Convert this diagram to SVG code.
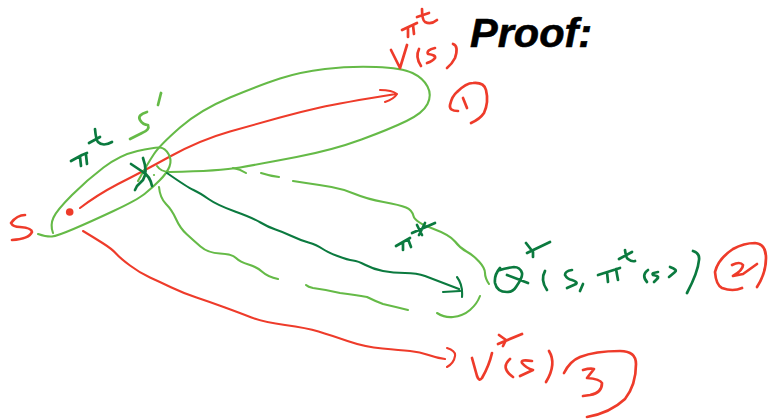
<svg xmlns="http://www.w3.org/2000/svg" width="769" height="420" viewBox="0 0 769 420">
<style>
path{fill:none;stroke-width:2.7;stroke-linecap:round;stroke-linejoin:round}
#connectors path{stroke-width:2.1}
.r path,path.r{stroke:#ee3b2a}
.g path,path.g{stroke:#65ba47}
.d path,path.d{stroke:#0b7a3f}
.title{font-family:"Liberation Sans",Arial,sans-serif;font-weight:bold;font-style:italic;font-size:41.5px;fill:#000;stroke:#000;stroke-width:.6px}
</style>
<rect width="769" height="420" fill="#fff"/>
<g id="title"><text class="title" x="470" y="47">Proof:</text></g>
<g id="connectors">
<path class="r" d="M80 208Q97 195 118 184Q140 173 170 156.5Q200 140 230 131.5Q260 123 280 117.5Q300 112 320 107.5Q340 103 396 94M380 90Q392 90 397 94Q394 99 385 102"/>
<path class="g" d="M138 181Q148 163 154 154Q160 145 180 127.5Q200 110 230 97.5Q260 85 280 78.5Q300 72 325 69Q350 66 376 67Q402 68 412.5 73Q423 78 427.5 86.5Q432 95 427.5 104Q423 113 406.5 121Q390 129 361.5 139.5Q333 150 296.5 157Q260 164 240 167.5Q220 171 170 172Q161 172 157 166"/>
<path class="g" d="M38 234Q47 237 52 236.5Q57 236 73.5 229Q90 222 113.5 211Q137 200 144.5 194Q152 188 159.5 180.5Q167 173 169.5 166.5Q172 160 168.5 154Q165 148 160 147.5Q155 147 137.5 151Q120 155 103.5 167.5Q87 180 72 195Q57 210 53.5 217.5Q50 225 53 233"/>
<path class="g" d="M233 168Q240 169 246 173M261 173Q270 176 279 177M293 181L306 183Q320 185 331.5 187Q343 189 355 194Q367 199 383.5 202Q400 205 406 207.5Q412 210 413.5 216Q415 222 432.5 228.5Q450 235 455 241.5Q460 248 466.5 251.5Q473 255 479 261.5Q485 268 485 273Q485 278 489 284"/>
<path class="g" d="M159 187Q160 198 166 204Q172 210 176 219Q180 228 186.5 234Q193 240 200.5 246.5Q208 253 220 253.5Q232 254 236 258Q240 262 248.5 264.5Q257 267 262.5 272Q268 277 278 279"/>
<path class="g" d="M306 285Q308 287 313 288Q328 290 340 293Q356 295 367 297Q375 301 383 304Q396 307 408 310M437 313Q445 318 453 317Q463 316 470 310Q477 304 480 296"/>
<path class="d" d="M167 173Q187 187 193.5 190Q200 193 208.5 199Q217 205 235 211.5Q253 218 260.5 222.5Q268 227 275.5 229.5Q283 232 291.5 236Q300 240 308.5 242.5Q317 245 322 248.5Q327 252 337.5 256Q348 260 353 260.5Q358 261 365.5 265Q373 269 383 271Q393 273 405 273Q417 273 425 276Q433 279 459 289M443 292L460 291M457 277Q463 285 462 297"/>
<path class="r" d="M83 231Q93 237 102.5 243Q112 249 116 253.5Q120 258 130 265.5Q140 273 150 277.5Q160 282 171.5 287.5Q183 293 196.5 297.5Q210 302 225 307.5Q240 313 251.5 317.5Q263 322 285 325Q307 328 318.5 331.5Q330 335 347.5 341Q365 347 382.5 348.5Q400 350 410 351Q420 352 428.5 355Q437 358 445 359M447 348Q456 351 455 356Q454 363 447 367"/>
</g>
<g id="node-s" class="r">
<path d="M25 215Q17 215 11 223Q13 227 20 227Q32 228 32 232Q29 239 12 240"/>
<circle cx="69.7" cy="212" r="3.8" fill="#ee3b2a"/>
</g>
<g id="node-s-prime" class="g">
<path d="M147 112Q137 115 140 120Q143 125 148 125Q150 130 142 133L130 139"/>
<path d="M161 93L158 105"/>
<circle cx="154" cy="175" r="1.1" fill="#65ba47"/>
</g>
<g id="label-pi-t" class="d">
<path d="M71 161L82 155L87 153M80 157L81 166M86 155L87 164"/>
<path d="M95 129Q96 140 98 142Q103 147 112 142M89 143L100 137"/>
</g>
<g id="node-star" class="d">
<path d="M131 164L143 172Q150 176 152 186M143 158Q148 172 143 180L137 186L135 190"/>
</g>
<g id="node-v-pi" class="r">
<path d="M391 50L400 68L407 45"/>
<path d="M402 30L417 23M408 28L408 37M413 25L414 34"/>
<path d="M422 9Q422 20 425 22Q431 25 437 20M417 17L429 13"/>
<path d="M419 49Q415 57 421 66"/>
<path d="M435 48Q426 50 428 54Q436 55 435 58Q433 61 427 63"/>
<path d="M453 44Q459 46 455 58Q452 64 447 68"/>
</g>
<g id="node-one" class="r">
<path d="M458 111Q449 111 450 105Q452 96 457 92Q466 83 473 83Q484 82 486 90Q489 102 484 113Q480 119 471 123"/>
<path d="M463 98L467 108"/>
</g>
<g id="label-pi-star" class="d">
<path d="M396 246L410 238M403 242L403 250M408 239L411 247"/>
<path d="M412 233L435 223M417 225L422 235M425 223L419 235"/>
</g>
<g id="node-q" class="d">
<path d="M500 268Q494 275 495 283Q497 292 507 292Q513 292 516 287Q523 277 522 273Q520 267 514 267Q505 268 500 270M507 275L528 283"/>
<path d="M526 243L533 252L533 257M550 242L527 253"/>
<path d="M545 271Q540 280 547 290"/>
<path d="M572 270Q565 271 565 275Q567 279 572 280Q578 282 576 284L567 288"/>
<path d="M583 284L580 291"/>
<path d="M598 275L620 268M607 272L608 282M616 269L618 280"/>
<path d="M625 250Q626 258 628 259Q632 262 635 261M619 259L632 252"/>
<path d="M648 270Q641 275 647 282"/>
<path d="M658 272Q651 273 653 275Q659 276 658 278L654 282"/>
<path d="M670 267Q678 270 675 272L669 277"/>
<path d="M693 251Q700 253 699 260Q698 272 687 293"/>
</g>
<g id="node-two" class="r">
<path d="M757 287Q766 273 766 258Q766 244 755 243Q744 243 733 249Q718 259 715 272Q716 285 722 288Q733 292 742 288"/>
<path d="M732 265Q740 261 743 265Q743 270 733 276Q738 275 743 274L757 264"/>
</g>
<g id="node-v-star" class="r">
<path d="M472 358L477 376Q479 382 482 378Q489 366 492 353"/>
<path d="M498 344L522 334M499 335L506 340L503 346"/>
<path d="M510 359Q500 368 513 377"/>
<path d="M532 361Q520 359 522 363Q526 368 533 370L520 376"/>
<path d="M549 351Q557 364 546 382"/>
</g>
<g id="node-three" class="r">
<path d="M564 373Q570 361 580 357Q595 351 620 351Q636 351 636 364Q636 385 625 399Q610 413 587 417"/>
<path d="M583 370Q590 368 594 369L587 378Q600 379 602 383Q602 393 590 395L583 396"/>
</g>
</svg>
